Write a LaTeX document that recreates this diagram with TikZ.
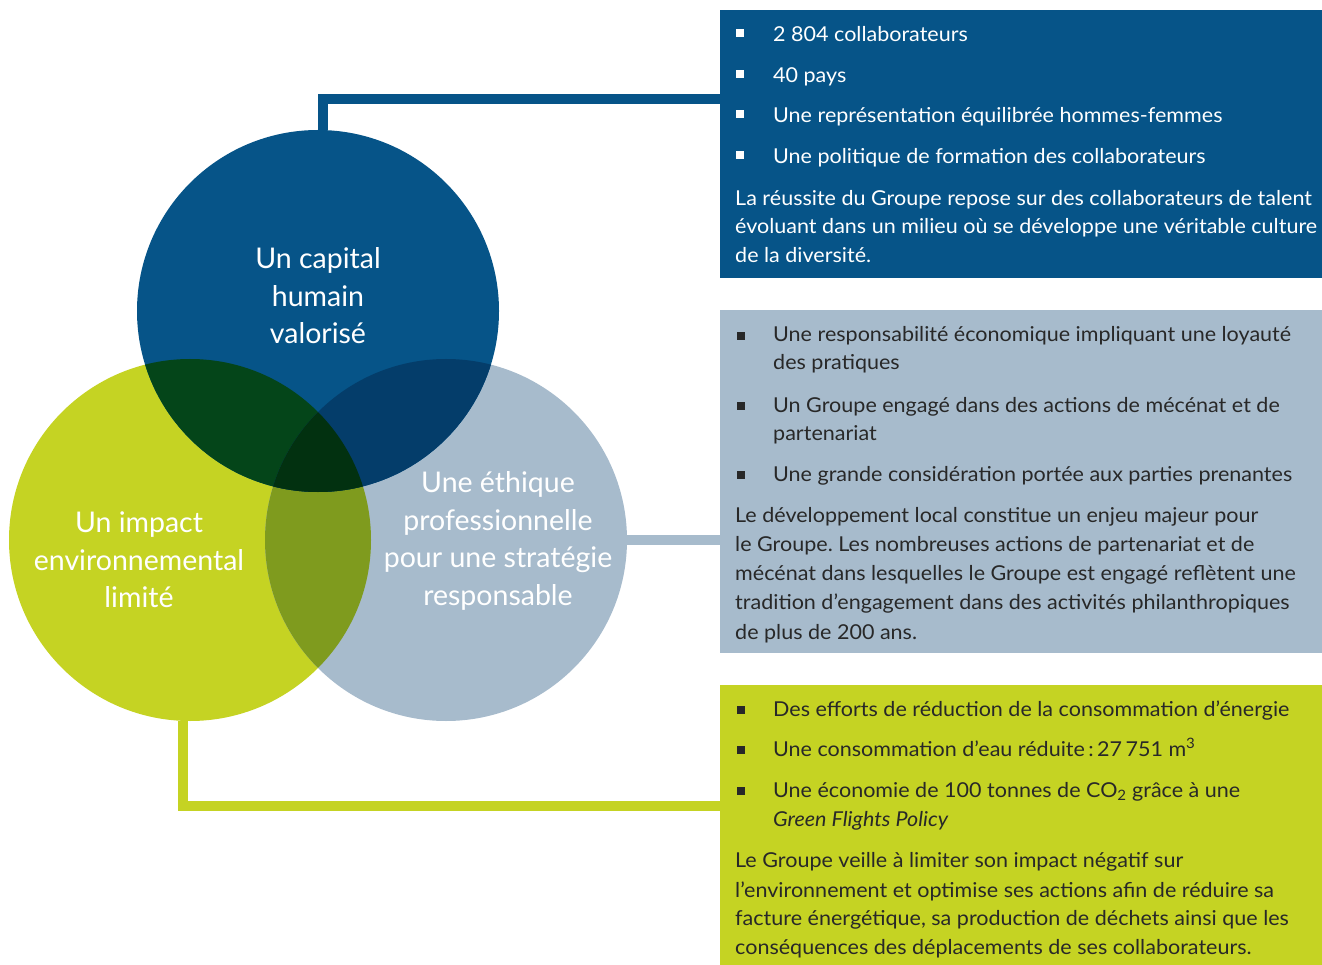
\documentclass[tikz,border=0pt]{standalone}
\usepackage{fontspec}
\setmainfont{Lato}
\newfontfamily\panelfont{Lato}[FakeStretch=1.05]
\frenchspacing
\usetikzlibrary{positioning}

\definecolor{capblue}{RGB}{6,84,136}
\definecolor{envgreen}{RGB}{197,211,35}
\definecolor{ethgrey}{RGB}{167,187,204}
\definecolor{capenv}{RGB}{4,69,25}
\definecolor{capeth}{RGB}{4,61,106}
\definecolor{enveth}{RGB}{127,155,30}
\definecolor{allthree}{RGB}{2,49,16}
\definecolor{panelink}{RGB}{40,40,40}

\tikzset{
  venn/.style={circle, minimum size=362pt, inner sep=0pt, outer sep=0pt},
  vennlabel/.style={text=white, align=center, inner sep=0pt,
    font=\fontsize{28.5}{37.5}\selectfont},
  panel/.style={anchor=north west, minimum width=602pt, inner sep=0pt, outer sep=0pt},
  link/.style={line width=10pt},
  bodytext/.style={anchor=base west, inner sep=0pt, font=\panelfont\fontsize{20.5}{29}\selectfont},
}

\begin{document}
\begin{tikzpicture}[x=1pt, y=-1pt]
    \useasboundingbox (0,0) rectangle (1322,965);

    % the three panels on the right
    \node[panel, fill=capblue, minimum height=268pt] (humanbox) at (720,10) {};
    \node[panel, fill=ethgrey, minimum height=343pt] (ethicsbox) at (720,310) {};
    \node[panel, fill=envgreen, minimum height=280pt] (envbox) at (720,685) {};

    % the three circles
    \node[venn, fill=envgreen] (impact) at (190,540) {};
    \node[venn, fill=ethgrey] (ethique) at (446,540) {};
    \node[venn, fill=capblue] (capital) at (318,311) {};

    % overlaps
    \begin{scope}
        \clip (impact.center) circle (181pt);
        \fill[enveth] (ethique.center) circle (181pt);
    \end{scope}
    \begin{scope}
        \clip (capital.center) circle (181pt);
        \fill[capenv] (impact.center) circle (181pt);
        \fill[capeth] (ethique.center) circle (181pt);
        \clip (impact.center) circle (181pt);
        \fill[allthree] (ethique.center) circle (181pt);
    \end{scope}

    % connectors to the panels
    \coordinate (humanlink) at (720,99);
    \coordinate (envlink) at (720,806);
    \draw[link, capblue] ([xshift=5pt]capital.north) |- (humanlink);
    \draw[link, ethgrey] (ethique.east) -- (ethique.east -| ethicsbox.west);
    \draw[link, envgreen] ([xshift=-7pt]impact.south) |- (envlink);

    % circle labels
    \node[vennlabel] (capitaltxt) at (318,296) {Un capital\\humain\\valorisé};
    \node[vennlabel] (impacttxt) at (139,560) {Un impact\\environnemental\\limité};
    \node[vennlabel] (ethiquetxt) at (498,541) {Une éthique\\professionnelle\\pour une stratégie\\responsable};

    % human capital panel
    \foreach \yb/\txt [count=\k] in {42/2 804 collaborateurs, 83/40 pays,
        123/Une représentation équilibrée hommes-femmes,
        164/Une politique de formation des collaborateurs} {
        \fill[white] (736,\yb-13) rectangle ++(8,8);
        \node[bodytext, text=white] (humanitem\k) at (773,\yb) {\txt};
    }
    \foreach \yb/\txt [count=\k] in {
        206/La réussite du Groupe repose sur des collaborateurs de talent,
        234/évoluant dans un milieu où se développe une véritable culture,
        263/de la diversité.}
        \node[bodytext, text=white] (humanpara\k) at (735,\yb) {\txt};

    % ethics panel
    \foreach \yb/\txt [count=\k] in {
        342/Une responsabilité économique impliquant une loyauté,
        412/Un Groupe engagé dans des actions de mécénat et de,
        481/Une grande considération portée aux parties prenantes} {
        \fill[panelink] (737,\yb-10) rectangle ++(8,8);
        \node[bodytext, text=panelink] (ethicsitem\k) at (773,\yb) {\txt};
    }
    \node[bodytext, text=panelink] (ethicsmore1) at (773,370) {des pratiques};
    \node[bodytext, text=panelink] (ethicsmore2) at (773,440) {partenariat};
    \foreach \yb/\txt [count=\k] in {
        522/Le développement local constitue un enjeu majeur pour,
        551/le Groupe. Les nombreuses actions de partenariat et de,
        580/mécénat dans lesquelles le Groupe est engagé reflètent une,
        609/tradition d’engagement dans des activités philanthropiques,
        639/de plus de 200 ans.}
        \node[bodytext, text=panelink] (ethicspara\k) at (735,\yb) {\txt};

    % environment panel
    \foreach \yb/\txt [count=\k] in {
        716/Des efforts de réduction de la consommation d’énergie,
        756/Une consommation d’eau réduite\,:\,27\,751 m\textsuperscript{3},
        797/Une économie de 100 tonnes de CO\textsubscript{2} grâce à une} {
        \fill[panelink] (737,\yb-10) rectangle ++(8,8);
        \node[bodytext, text=panelink] (envitem\k) at (773,\yb) {\txt};
    }
    \node[bodytext, text=panelink] (envmore) at (773,826) {\itshape Green Flights Policy};
    \foreach \yb/\txt [count=\k] in {
        867/Le Groupe veille à limiter son impact négatif sur,
        897/l’environnement et optimise ses actions afin de réduire sa,
        925/{facture énergétique, sa production de déchets ainsi que les},
        954/conséquences des déplacements de ses collaborateurs.}
        \node[bodytext, text=panelink] (envpara\k) at (735,\yb) {\txt};
\end{tikzpicture}
\end{document}
